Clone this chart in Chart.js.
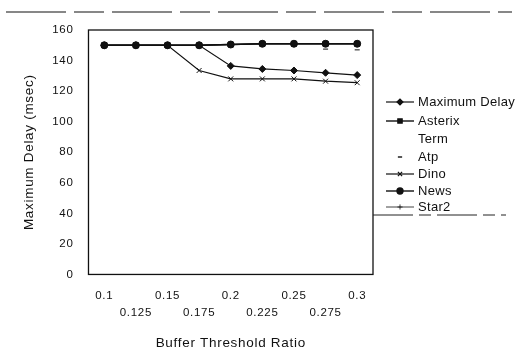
<!DOCTYPE html>
<html>
<head>
<meta charset="utf-8">
<script src="https://cdn.jsdelivr.net/npm/chart.js@4/dist/chart.umd.min.js"></script>
<style>
  html, body { margin: 0; padding: 0; background: #fff; }
  #wrap { width: 516px; height: 360px; position: relative; }
</style>
</head>
<body>
<div id="wrap"><canvas id="delayChart"></canvas></div>
<script>
  const ratios = ["0.1", "0.125", "0.15", "0.175", "0.2", "0.225", "0.25", "0.275", "0.3"];
  const yTicks = [0, 20, 40, 60, 80, 100, 120, 140, 160];

  const maxDelay = [150, 150, 150, 150, 136.5, 134.5, 133.5, 132, 130.5];
  const asterix = [150, 150, 150, 150, 150.5, 151, 151, 151, 151];
  const term = [150, 150, 150, 150, 150.5, 151, 151, 151, 151];
  const atp = [150, 150, 150, 150, 150, 150, 150, 147.5, 147];
  const dino = [150, 150, 150, 133.5, 128, 128, 128, 126.5, 125.5];
  const news = [150, 150, 150, 150, 150.5, 151, 151, 151, 151];
  const star2 = [150, 150, 150, 150, 150.5, 151, 151, 151, 151];

  const FONT = "'Liberation Sans', Arial, sans-serif";

  // the scanned labels are a little spread out
  const spacingPlugin = {
    id: "spacing",
    beforeLayout(chart) { chart.ctx.letterSpacing = "0.7px"; },
    beforeDraw(chart) { chart.ctx.letterSpacing = "0.7px"; }
  };

  // legend drawn by hand, plus the box around the plot and the scan line on top
  const decorPlugin = {
    id: "decor",
    afterDraw(chart) {
      const ctx = chart.ctx;
      const area = chart.chartArea;
      ctx.save();
      ctx.strokeStyle = "#111";
      ctx.lineWidth = 1.3;
      ctx.strokeRect(area.left, area.top, area.right - area.left, area.bottom - area.top);

      // dashed line along the top of the page
      ctx.lineWidth = 1.2;
      ctx.setLineDash([60, 8, 30, 8]);
      ctx.beginPath();
      ctx.moveTo(6, 12);
      ctx.lineTo(512, 12);
      ctx.stroke();

      // legend
      ctx.setLineDash([]);
      ctx.font = "13px " + FONT;
      ctx.letterSpacing = "0.3px";
      ctx.fillStyle = "#111";
      ctx.textBaseline = "middle";
      const x0 = 386, x1 = 414, tx = 418;
      const ys = [102, 121, 139, 157, 174, 191, 207];
      chart.data.datasets.forEach((ds, i) => {
        const y = ys[i];
        if (ds.showLine !== false && ds.borderWidth > 0) {
          ctx.strokeStyle = ds.borderColor;
          ctx.lineWidth = ds.borderWidth;
          ctx.beginPath();
          ctx.moveTo(x0, y);
          ctx.lineTo(x1, y);
          ctx.stroke();
        }
        if (ds.pointRadius > 0) {
          ctx.fillStyle = "#111";
          ctx.strokeStyle = "#111";
          Chart.helpers.drawPoint(ctx, {
            pointStyle: ds.pointStyle,
            radius: ds.pointRadius * 0.85,
            borderWidth: 1
          }, (x0 + x1) / 2, y);
        }
        ctx.fillStyle = "#111";
        ctx.fillText(ds.label, tx, y);
      });

      // legend box bottom edge
      ctx.strokeStyle = "#222";
      ctx.lineWidth = 1;
      ctx.setLineDash([40, 6, 12, 6]);
      ctx.beginPath();
      ctx.moveTo(area.right, 215);
      ctx.lineTo(506, 215);
      ctx.stroke();
      ctx.restore();
    }
  };

  function series(label, data, style, radius, width, showLine) {
    return {
      label: label,
      data: data,
      borderColor: "#111",
      backgroundColor: "#111",
      pointBackgroundColor: "#111",
      pointBorderColor: "#111",
      borderWidth: width,
      pointStyle: style,
      pointRadius: radius,
      pointBorderWidth: 1,
      showLine: showLine,
      tension: 0,
      fill: false
    };
  }

  const ctx = document.getElementById("delayChart");
  new Chart(ctx, {
    type: "line",
    data: {
      labels: ratios,
      datasets: [
        series("Maximum Delay", maxDelay, "rectRot", 3.5, 1.2, true),
        series("Asterix", asterix, "rect", 3.5, 1.4, true),
        series("Term", term, "circle", 0, 0, false),
        series("Atp", atp, "line", 2.5, 0, false),
        series("Dino", dino, "crossRot", 3.5, 1.2, true),
        series("News", news, "circle", 3.5, 1.4, true),
        series("Star2", star2, "cross", 3, 0.8, true)
      ]
    },
    plugins: [spacingPlugin, decorPlugin],
    options: {
      responsive: true,
      maintainAspectRatio: false,
      animation: false,
      layout: { padding: { top: 30, right: 143, left: 21, bottom: 9 } },
      plugins: {
        legend: { display: false },
        tooltip: { enabled: false }
      },
      scales: {
        x: {
          offset: true,
          grid: { display: false, drawTicks: false },
          border: { display: false },
          ticks: {
            color: "#111",
            font: { family: FONT, size: 11.5, lineHeight: 1.45 },
            maxRotation: 0,
            autoSkip: false,
            padding: 13,
            callback: function (value, index) {
              const t = ratios[index];
              return index % 2 === 0 ? [t, ""] : ["", t];
            }
          },
          title: {
            display: true,
            text: "Buffer Threshold Ratio",
            color: "#111",
            font: { family: FONT, size: 13.5 },
            padding: { top: 1, bottom: 0 }
          }
        },
        y: {
          min: 0,
          max: 160,
          grid: { display: false, drawTicks: false },
          border: { display: false },
          afterBuildTicks: function (axis) {
            axis.ticks = yTicks.map(v => ({ value: v }));
          },
          ticks: {
            color: "#111",
            font: { family: FONT, size: 11.5 },
            padding: 15
          },
          title: {
            display: true,
            text: "Maximum Delay (msec)",
            color: "#111",
            font: { family: FONT, size: 13.5 },
            padding: { top: 0, bottom: 0 }
          }
        }
      }
    }
  });
</script>
</body>
</html>
